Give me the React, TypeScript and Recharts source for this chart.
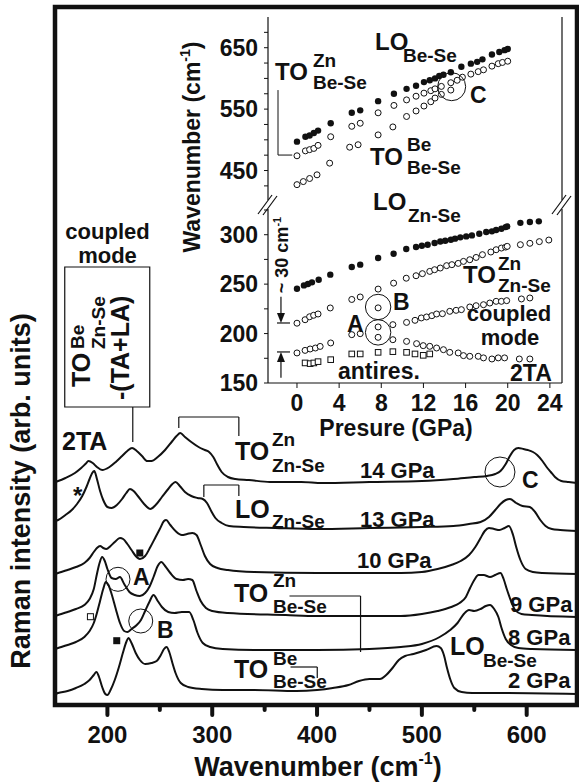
import React from 'react';
import {
  LineChart,
  Line,
  ScatterChart,
  Scatter,
  XAxis,
  YAxis,
  ReferenceArea,
  ReferenceLine,
  ReferenceDot,
} from 'recharts';

const FONT = '"Liberation Sans", Arial, Helvetica, sans-serif';
const INK = '#111';

// Raman spectra, [wavenumber (cm-1), intensity (arb. units, already stacked)]
const spec14: [number, number][] = [
  [150, 223], [153, 224], [160, 227], [169, 232], [175, 237], [179, 241], [182, 244], [186, 242],
  [190, 238], [195, 235], [202, 238], [208, 243], [214, 249], [219, 254], [223.5, 257], [228, 254],
  [233, 249], [238, 244], [242, 244], [248, 248], [255, 255], [262, 264], [266, 269], [269.5, 272],
  [274, 268], [280, 263], [287, 258], [293, 255], [297, 253], [301, 248], [305, 240], [309, 233],
  [315, 228], [322, 226], [335, 225], [355, 223], [385, 223], [405, 222], [450, 223], [500, 224],
  [530, 226], [550, 228], [562, 229], [570, 231], [575, 234], [580, 241], [584, 249], [588, 255],
  [592, 257], [597, 256], [601, 255], [606, 253], [610, 250], [615, 244], [619, 238], [623, 233],
  [627, 228], [633, 224], [640, 223], [648, 222],
];
const spec13: [number, number][] = [
  [150, 184], [153, 185], [160, 190], [166, 195], [171, 201], [176, 209], [180, 218], [183, 226],
  [185.5, 232], [187.5, 234], [190, 226], [193, 214], [196, 205], [200, 198], [204, 197], [209, 200],
  [214, 206], [218, 212], [221.5, 216], [225, 214], [229, 209], [235, 201], [241, 196], [246, 200],
  [252, 208], [258, 216], [262, 221], [265, 223], [269, 219], [274, 213], [280, 209], [286, 207],
  [291, 206], [295, 202], [299, 194], [303, 187], [309, 182], [316, 179], [330, 178], [360, 177],
  [400, 176], [450, 177], [500, 178], [530, 179], [545, 181], [556, 183], [564, 188], [570, 195],
  [575, 201], [580, 205], [584, 206], [590, 202], [596, 199], [603, 198], [608, 193], [613, 185],
  [618, 179], [624, 176], [632, 175], [648, 174],
];
const spec10: [number, number][] = [
  [150, 131], [153, 132], [162, 135], [170, 138], [178, 142], [183, 147], [187, 153], [190, 157],
  [193, 159], [196, 157], [199, 156], [203, 159], [207, 163], [212, 167], [215, 166], [219, 161],
  [223, 155], [227, 149], [231, 146], [236, 149], [241, 158], [246, 168], [250, 176], [254, 184],
  [256, 185], [260, 180], [265, 174], [271, 170], [276, 171], [281, 172], [285, 170], [289, 160],
  [293, 149], [298, 141], [305, 137], [315, 135], [340, 133], [400, 132], [480, 132], [500, 133],
  [515, 136], [528, 140], [537, 144], [545, 150], [551, 158], [556, 167], [560, 174], [564, 177],
  [569, 176], [574, 175], [579, 177], [583, 179], [587, 170], [590, 158], [594, 145], [599, 136],
  [606, 133], [615, 132], [648, 131],
];
const spec9: [number, number][] = [
  [150, 89], [153, 90], [162, 93], [170, 96], [178, 100], [183, 106], [187, 116], [190, 131],
  [192.5, 142], [195, 148], [197.5, 144], [200, 136], [204, 127], [208, 126], [212, 128], [216, 121],
  [221, 113], [226, 110], [231, 109], [236, 112], [240, 118], [244, 128], [248, 139], [251.5, 143],
  [255, 139], [260, 132], [266, 126], [272, 125], [277, 126], [281, 125], [285, 114], [289, 104],
  [294, 97], [300, 94], [315, 92], [370, 90], [400, 89], [480, 89], [500, 91], [515, 94],
  [528, 98], [536, 102], [542, 108], [546, 117], [550, 125], [554, 130], [559, 130], [565, 128],
  [570, 130], [575, 132], [578, 126], [581, 116], [585, 104], [589, 95], [595, 91], [605, 90],
  [648, 88],
];
const spec8: [number, number][] = [
  [150, 56], [153, 57], [162, 60], [170, 63], [178, 68], [183, 74], [187, 82], [190, 92],
  [193, 104], [196, 116], [198.5, 123], [201, 120], [204, 111], [208, 96], [212, 82], [216, 74],
  [219, 73], [223, 76], [228, 80], [232, 85], [236, 94], [240, 103], [244, 110], [248, 104],
  [252, 98], [258, 93], [264, 92], [271, 93], [278, 93], [282, 85], [286, 72], [291, 62],
  [298, 58], [310, 56], [340, 55], [400, 55], [450, 56], [480, 58], [500, 61], [517, 68],
  [527, 75], [534, 82], [540, 91], [545, 95], [550, 94], [556, 96], [561, 99], [565, 100],
  [569, 96], [573, 88], [576, 77], [580, 66], [585, 60], [592, 57], [605, 56], [648, 55],
];
const spec2: [number, number][] = [
  [150, 11], [153, 12], [162, 14], [170, 17], [178, 21], [183, 25], [187, 30], [189.5, 33],
  [192, 28], [195, 18], [198, 11], [200, 10], [203, 15], [207, 25], [211, 38], [215, 53],
  [218, 63], [220, 67], [223, 62], [227, 52], [231, 45], [236, 41], [242, 42], [247, 44],
  [251, 50], [254, 56], [256.5, 58], [259, 53], [262, 42], [265, 32], [270, 22], [277, 18],
  [290, 16], [310, 15], [340, 15], [380, 14], [400, 15], [415, 17], [430, 20], [440, 24],
  [450, 26], [460, 26], [466, 30], [472, 37], [478, 45], [484, 49], [492, 51], [504, 55],
  [514, 59], [518, 57], [521, 50], [524, 37], [527, 26], [531, 17], [538, 13], [548, 12],
  [580, 12], [648, 11],
];

const mainTicksX = [200, 250, 300, 350, 400, 450, 500, 550, 600];
const mainTicksY = [31, 105, 179, 253, 327, 401, 475, 549, 623];

// inset: pressure (GPa) vs mode frequency (cm-1)
const pressTicks = [0, 4, 8, 12, 16, 20, 24];
const upperTicks = [425, 450, 475, 500, 525, 550, 575, 600, 625, 650, 675];
const upperLabels = [450, 550, 650];
const lowerTicks = [150, 175, 200, 225, 250, 275, 300, 325];
const lowerLabels = [150, 200, 250, 300];

const loBeSe: [number, number][] = [
  [0, 497], [0.8, 505], [1.2, 507], [1.6, 511], [2.0, 515], [3.2, 527], [5.2, 544], [6.0, 548],
  [7.7, 563], [9.2, 575], [10.4, 583], [11.3, 588], [12.05, 594], [12.6, 597], [13.1, 600],
  [13.5, 604], [13.9, 606], [14.6, 610], [15.6, 619], [16.5, 624], [17.1, 627], [17.6, 631],
  [18.5, 639], [19.2, 643], [19.7, 646], [20.0, 648],
];
const toZnBeSe: [number, number][] = [
  [0, 474], [0.8, 482], [1.2, 484], [1.6, 486], [2.0, 491], [3.2, 505], [5.2, 522], [6.0, 527],
  [7.7, 544], [9.2, 556], [10.4, 565], [11.3, 571], [12.05, 576], [12.7, 580], [13.1, 583],
  [13.7, 587], [14.6, 593], [15.2, 597], [15.7, 602], [16.5, 607], [17.2, 611], [17.7, 614],
  [18.5, 620], [19.1, 624], [19.5, 626], [20.0, 628],
];
const toBeBeSe: [number, number][] = [
  [0, 427], [0.6, 432], [1.2, 437], [1.9, 443], [3.1, 462], [5.0, 488], [5.8, 492], [7.7, 508],
  [9.1, 521], [10.4, 538], [11.3, 547], [12.05, 555], [12.7, 562], [13.1, 568], [13.7, 574],
  [14.6, 581],
];
const loZnSe: [number, number][] = [
  [0, 245.4], [0.66, 248.7], [1.04, 250.1], [1.42, 251.8], [2.06, 254.5], [3.16, 259.6],
  [5.2, 267.3], [6.0, 269.7], [7.7, 276.4], [9.17, 280.8], [10.37, 285.5], [11.3, 287.5],
  [11.85, 288.9], [12.4, 289.9], [13.06, 291.6], [13.6, 293.2], [14.07, 293.9], [14.6, 294.9],
  [15.0, 296], [15.5, 297.3], [16.06, 298.3], [16.6, 299.3], [17.3, 301], [17.96, 302.7],
  [18.5, 303.4], [18.9, 304.7], [19.4, 306], [19.8, 307.7], [19.95, 308.4], [21.2, 312],
  [22.1, 312.8], [22.95, 313.5],
];
const toZnZnSe: [number, number][] = [
  [0, 210.5], [0.77, 214], [1.2, 217], [1.58, 218.5], [2.0, 219.8], [3.16, 225.9], [5.2, 234.5],
  [6.0, 237], [7.7, 245], [9.17, 251], [10.37, 256], [11.3, 258.5], [11.9, 260.6], [12.6, 262.9],
  [13.06, 264.6], [13.6, 266.3], [14.2, 268.7], [14.7, 269.7], [15.3, 271], [15.8, 273],
  [16.4, 274.7], [17.0, 277], [17.6, 279.8], [18.4, 282.5], [18.9, 284.8], [19.4, 286.5],
  [19.8, 287.5], [19.95, 288.2], [21.2, 289.9], [22.1, 291.3], [23.0, 293], [23.9, 294.6],
];
const coupledLow: [number, number][] = [
  [0, 180.4], [0.77, 183], [1.25, 184.4], [1.75, 185.4], [2.2, 187], [3.2, 190.5], [5.2, 198.9],
  [6.0, 199.9],
];
const modeAB: [number, number][] = [
  [7.7, 226], [7.7, 206.7], [7.7, 196.2], [9.1, 209], [9.1, 193.8],
];
const coupledHigh: [number, number][] = [
  [10.4, 211.3], [11.2, 213.4], [11.8, 215.8], [12.3, 216.8], [12.8, 218.1], [13.25, 219.8],
  [13.8, 220.1], [14.5, 222.5], [15.1, 223.5], [15.6, 224.2], [16.4, 226.9], [17.0, 228.2],
  [17.7, 229.2], [18.3, 230.9], [18.9, 232.6], [19.4, 232.6], [19.9, 233.3], [21.3, 235],
  [22.1, 236],
];
const twoTA: [number, number][] = [
  [10.4, 192.1], [11.35, 189.8], [11.98, 187.8], [12.6, 187.1], [13.25, 185.4], [13.9, 183.7],
  [14.5, 181], [15.3, 180.4], [15.8, 177.7], [16.4, 177], [17.2, 177], [17.7, 175.4],
  [18.5, 174.3], [19.1, 175.4], [19.7, 175.4], [21.1, 174.3], [22.1, 174.3],
];
const antires: [number, number][] = [
  [0.77, 170.3], [1.25, 169.6], [1.6, 170.3], [2.0, 171.6], [3.2, 173.6], [5.2, 179.4],
  [6.0, 179.4], [7.7, 181], [9.1, 181.7], [10.4, 181], [11.2, 179.4], [11.98, 178], [12.6, 179.4],
];

const P_MIN = -2.75;
const P_MAX = 25.15;

const spec = (a: [number, number][]) => a.map(([w, i]) => ({ w, i }));
const pv = (a: [number, number][]) => a.map(([p, v]) => ({ p, v }));

const T = ({ x, y, s = 23, a = 'start', children }: any) => (
  <text x={x} y={y} fontSize={s} textAnchor={a} fontWeight="bold" fontFamily={FONT} fill={INK}>
    {children}
  </text>
);

const Mode = ({ x, y, m, sx, sup, supY, sub, subY, s = 25, ss = 19 }: any) => (
  <g>
    <T x={x} y={y} s={s}>{m}</T>
    {sup && <T x={sx} y={supY} s={ss}>{sup}</T>}
    <T x={sx} y={subY} s={ss}>{sub}</T>
  </g>
);

const MainXTick = ({ x, y, payload }: any) => {
  const major = payload.value % 100 === 0;
  return (
    <g>
      <line x1={x} x2={x} y1={y} y2={y + (major ? 10 : 5)} stroke={INK} strokeWidth={4} strokeLinecap="round" />
      {major && (
        <text x={x} y={y + 38} textAnchor="middle" fontSize={24} fontWeight="bold" fontFamily={FONT} fill={INK}>
          {payload.value}
        </text>
      )}
    </g>
  );
};

const insetYTick = (labels: number[]) => ({ x, y, payload }: any) =>
  labels.includes(payload.value) ? (
    <text x={x} y={y + 8} textAnchor="end" fontSize={23} fontWeight="bold" fontFamily={FONT} fill={INK}>
      {payload.value}
    </text>
  ) : (
    <g />
  );

const PressTick = ({ x, y, payload }: any) => (
  <text x={x} y={y + 19} textAnchor="middle" fontSize={23} fontWeight="bold" fontFamily={FONT} fill={INK}>
    {payload.value}
  </text>
);

const filled = (p: any) => <circle cx={p.cx} cy={p.cy} r={3.2} fill={INK} />;
const open = (p: any) => <circle cx={p.cx} cy={p.cy} r={3} fill="#fff" stroke={INK} strokeWidth={1} />;
const square = (p: any) => (
  <rect x={p.cx - 2.8} y={p.cy - 2.8} width={5.6} height={5.6} fill="#fff" stroke={INK} strokeWidth={1} />
);

const thin = { stroke: INK, strokeWidth: 1.2 };

export default function App() {
  const spectra = [spec14, spec13, spec10, spec9, spec8, spec2];
  return (
    <div style={{ position: 'absolute', left: 0, top: 0, width: 579, height: 784, background: '#fff' }}>
      <div style={{ position: 'absolute', left: 0, top: 0 }}>
        <LineChart width={579} height={784} margin={{ top: 7, right: 2, left: 55, bottom: 9 }}>
          <XAxis
            type="number"
            dataKey="w"
            domain={[150, 648]}
            allowDataOverflow
            ticks={mainTicksX}
            interval={0}
            height={70}
            tickSize={0}
            tickMargin={0}
            tickLine={false}
            axisLine={false}
            tick={(p: any) => <MainXTick {...p} />}
          />
          <YAxis
            type="number"
            domain={[0, 698]}
            allowDataOverflow
            ticks={mainTicksY}
            interval={0}
            mirror
            width={0}
            tick={false}
            tickSize={4}
            tickLine={{ stroke: INK, strokeWidth: 1.5 }}
            axisLine={false}
          />
          <ReferenceArea x1={150} x2={648} y1={0} y2={698} fill="none" stroke={INK} strokeWidth={4.5} />
          {spectra.map((s, k) => (
            <Line
              key={k}
              data={spec(s)}
              dataKey="i"
              type="monotone"
              dot={false}
              stroke={INK}
              strokeWidth={2}
              isAnimationActive={false}
            />
          ))}
          {/* label box + brackets */}
          <ReferenceArea x1={159.3} x2={240.4} y1={298} y2={438} fill="none" stroke={INK} strokeWidth={1.2} />
          <ReferenceLine segment={[{ x: 224.2, y: 298 }, { x: 224.2, y: 263 }]} {...thin} />
          <ReferenceLine segment={[{ x: 268.1, y: 277 }, { x: 268.1, y: 288 }]} {...thin} />
          <ReferenceLine segment={[{ x: 268.1, y: 288 }, { x: 325.4, y: 288 }]} {...thin} />
          <ReferenceLine segment={[{ x: 325.4, y: 288 }, { x: 325.4, y: 269 }]} {...thin} />
          <ReferenceLine segment={[{ x: 292, y: 208 }, { x: 292, y: 220 }]} {...thin} />
          <ReferenceLine segment={[{ x: 292, y: 220 }, { x: 325.4, y: 220 }]} {...thin} />
          <ReferenceLine segment={[{ x: 325.4, y: 220 }, { x: 325.4, y: 209 }]} {...thin} />
          <ReferenceLine segment={[{ x: 373.7, y: 109 }, { x: 441.5, y: 109 }]} {...thin} />
          <ReferenceLine segment={[{ x: 441.5, y: 109 }, { x: 441.5, y: 53 }]} {...thin} />
          <ReferenceLine segment={[{ x: 374.7, y: 38 }, { x: 400.2, y: 38 }]} {...thin} />
          <ReferenceLine segment={[{ x: 400.2, y: 38 }, { x: 400.2, y: 27 }]} {...thin} />
          <ReferenceDot x={210.1} y={125.7} r={12} fill="none" stroke={INK} strokeWidth={1} />
          <ReferenceDot x={231.8} y={84} r={12} fill="none" stroke={INK} strokeWidth={1} />
          <ReferenceDot x={574.5} y={233} r={15} fill="none" stroke={INK} strokeWidth={1} />
          <ReferenceDot
            x={230.9}
            y={152}
            shape={(p: any) => <rect x={p.cx - 3.5} y={p.cy - 3.5} width={7} height={7} fill={INK} />}
          />
          <ReferenceDot
            x={208.9}
            y={64.3}
            shape={(p: any) => <rect x={p.cx - 3.5} y={p.cy - 3.5} width={7} height={7} fill={INK} />}
          />
          <ReferenceDot
            x={183.8}
            y={88.3}
            shape={(p: any) => (
              <rect x={p.cx - 3} y={p.cy - 3} width={6} height={6} fill="#fff" stroke={INK} strokeWidth={1} />
            )}
          />
        </LineChart>
      </div>

      {/* inset, upper part of the broken axis */}
      <div style={{ position: 'absolute', left: 150, top: 0 }}>
        <ScatterChart width={429} height={210} margin={{ top: 17, right: 17, bottom: 10, left: 0 }}>
          <XAxis
            type="number"
            dataKey="p"
            orientation="top"
            domain={[P_MIN, P_MAX]}
            allowDataOverflow
            ticks={pressTicks}
            interval={0}
            height={0}
            tick={false}
            tickSize={5}
            tickLine={{ stroke: INK }}
            axisLine={thin}
          />
          <YAxis
            type="number"
            dataKey="v"
            domain={[402, 700]}
            allowDataOverflow
            ticks={upperTicks}
            interval={0}
            width={118}
            tickSize={4}
            tickMargin={6}
            tick={insetYTick(upperLabels)}
            tickLine={{ stroke: INK }}
            axisLine={thin}
          />
          <ReferenceLine x={P_MAX} {...thin} />
          <ReferenceLine segment={[{ x: -1.8, y: 581 }, { x: -1.8, y: 475.2 }]} stroke={INK} strokeWidth={1} />
          <ReferenceLine segment={[{ x: -1.8, y: 475.2 }, { x: -0.45, y: 475.2 }]} stroke={INK} strokeWidth={1} />
          <Scatter data={pv(toBeBeSe)} shape={open} isAnimationActive={false} />
          <Scatter data={pv(toZnBeSe)} shape={open} isAnimationActive={false} />
          <Scatter data={pv(loBeSe)} shape={filled} isAnimationActive={false} />
          <ReferenceDot x={14.68} y={586.5} r={14} fill="none" stroke={INK} strokeWidth={1} />
        </ScatterChart>
      </div>

      {/* inset, lower part */}
      <div style={{ position: 'absolute', left: 150, top: 192 }}>
        <ScatterChart width={429} height={248} margin={{ top: 17, right: 17, bottom: 0, left: 0 }}>
          <XAxis
            type="number"
            dataKey="p"
            domain={[P_MIN, P_MAX]}
            allowDataOverflow
            ticks={pressTicks}
            interval={0}
            height={57}
            tickSize={5}
            tickMargin={4}
            tick={(p: any) => <PressTick {...p} />}
            tickLine={{ stroke: INK }}
            axisLine={thin}
          />
          <YAxis
            type="number"
            dataKey="v"
            domain={[150, 326]}
            allowDataOverflow
            ticks={lowerTicks}
            interval={0}
            width={118}
            tickSize={4}
            tickMargin={6}
            tick={insetYTick(lowerLabels)}
            tickLine={{ stroke: INK }}
            axisLine={thin}
          />
          <ReferenceLine x={P_MAX} {...thin} />
          <ReferenceLine segment={[{ x: -1.9, y: 210.7 }, { x: -0.66, y: 210.7 }]} stroke={INK} strokeWidth={1.2} />
          <ReferenceLine segment={[{ x: -1.9, y: 181.4 }, { x: -0.66, y: 181.4 }]} stroke={INK} strokeWidth={1.2} />
          <ReferenceLine segment={[{ x: -1.52, y: 237.3 }, { x: -1.52, y: 218 }]} stroke={INK} strokeWidth={1.2} />
          <ReferenceLine segment={[{ x: -1.52, y: 155.4 }, { x: -1.52, y: 175 }]} stroke={INK} strokeWidth={1.2} />
          <ReferenceDot
            x={-1.52}
            y={210.7}
            shape={(p: any) => (
              <polygon points={`${p.cx - 4},${p.cy - 10} ${p.cx + 4},${p.cy - 10} ${p.cx},${p.cy}`} fill={INK} />
            )}
          />
          <ReferenceDot
            x={-1.52}
            y={181.4}
            shape={(p: any) => (
              <polygon points={`${p.cx - 4},${p.cy + 10} ${p.cx + 4},${p.cy + 10} ${p.cx},${p.cy}`} fill={INK} />
            )}
          />
          <Scatter data={pv(antires)} shape={square} isAnimationActive={false} />
          <Scatter data={pv(coupledLow)} shape={open} isAnimationActive={false} />
          <Scatter data={pv(modeAB)} shape={open} isAnimationActive={false} />
          <Scatter data={pv(coupledHigh)} shape={open} isAnimationActive={false} />
          <Scatter data={pv(twoTA)} shape={open} isAnimationActive={false} />
          <Scatter data={pv(toZnZnSe)} shape={open} isAnimationActive={false} />
          <Scatter data={pv(loZnSe)} shape={filled} isAnimationActive={false} />
          <ReferenceDot x={7.7} y={226.9} r={12.7} fill="none" stroke={INK} strokeWidth={1} />
          <ReferenceDot x={7.7} y={201.2} r={12.7} fill="none" stroke={INK} strokeWidth={1} />
        </ScatterChart>
      </div>

      {/* text annotations */}
      <svg width={579} height={784} style={{ position: 'absolute', left: 0, top: 0, pointerEvents: 'none' }}>
        {/* axis break marks */}
        {[268, 562].map((cx) => (
          <g key={cx} stroke={INK} strokeWidth={1.2}>
            <line x1={cx - 10} y1={214} x2={cx + 4} y2={195} />
            <line x1={cx - 5} y1={215} x2={cx + 9} y2={196} />
          </g>
        ))}

        {/* main axis titles */}
        <text x={318} y={776} textAnchor="middle" fontSize={27} fontWeight="bold" fontFamily={FONT} fill={INK}>
          Wavenumber (cm<tspan fontSize={16} dy={-12}>-1</tspan><tspan dy={12}>)</tspan>
        </text>
        <text
          transform="translate(30,491) rotate(-90)"
          textAnchor="middle"
          fontSize={27}
          fontWeight="bold"
          fontFamily={FONT}
          fill={INK}
        >
          Raman intensity (arb. units)
        </text>

        {/* main annotations */}
        <T x={107.5} y={239} s={22} a="middle">coupled</T>
        <T x={107.5} y={263} s={22} a="middle">mode</T>
        <g transform="translate(90,387) rotate(-90)">
          <T x={0} y={0} s={25}>TO</T>
          <T x={38} y={-6} s={19}>Be</T>
          <T x={38} y={15} s={19}>Zn-Se</T>
        </g>
        <g transform="translate(129,400) rotate(-90)">
          <T x={0} y={0} s={25}>-(TA+LA)</T>
        </g>
        <T x={62} y={450} s={25}>2TA</T>
        <Mode x={235} y={460} m="TO" sx={272} sup="Zn" supY={446} sub="Zn-Se" subY={472} />
        <T x={360} y={478} s={22}>14 GPa</T>
        <T x={522} y={488}>C</T>
        <T x={73} y={504} s={24}>*</T>
        <Mode x={235} y={518} m="LO" sx={272} sub="Zn-Se" subY={528} />
        <T x={360} y={527} s={22}>13 GPa</T>
        <T x={357} y={568} s={22}>10 GPa</T>
        <Mode x={234} y={602} m="TO" sx={273} sup="Zn" supY={587} sub="Be-Se" subY={613} />
        <T x={133} y={585}>A</T>
        <T x={157} y={638}>B</T>
        <T x={510} y={612} s={22}>9 GPa</T>
        <T x={508} y={645} s={22}>8 GPa</T>
        <Mode x={450} y={655} m="LO" sx={483} sub="Be-Se" subY={667} />
        <T x={508} y={688} s={22}>2 GPa</T>
        <Mode x={234} y={678} m="TO" sx={273} sup="Be" supY={665} sub="Be-Se" subY={688} />

        {/* inset annotations */}
        <text
          transform="translate(200,147) rotate(-90)"
          textAnchor="middle"
          fontSize={23}
          fontWeight="bold"
          fontFamily={FONT}
          fill={INK}
        >
          Wavenumber (cm<tspan fontSize={14} dy={-10}>-1</tspan><tspan dy={10}>)</tspan>
        </text>
        <T x={396} y={436} a="middle">Presure (GPa)</T>
        <Mode x={375} y={50} m="LO" s={24} sx={403} sub="Be-Se" subY={62} />
        <Mode x={275} y={80} m="TO" s={24} sx={313} sup="Zn" supY={67} sub="Be-Se" subY={89} />
        <Mode x={370} y={165} m="TO" s={24} sx={407} sup="Be" supY={151} sub="Be-Se" subY={174} />
        <Mode x={373} y={210} m="LO" s={24} sx={408} sub="Zn-Se" subY={222} />
        <Mode x={463} y={283} m="TO" s={24} sx={498} sup="Zn" supY={270} sub="Zn-Se" subY={292} />
        <T x={470} y={103}>C</T>
        <T x={393} y={310}>B</T>
        <T x={347} y={332}>A</T>
        <T x={509} y={321} s={22} a="middle">coupled</T>
        <T x={510} y={345} s={22} a="middle">mode</T>
        <T x={338} y={379}>antires.</T>
        <T x={510} y={381}>2TA</T>
        <text
          transform="translate(288,255) rotate(-90)"
          textAnchor="middle"
          fontSize={18}
          fontWeight="bold"
          fontFamily={FONT}
          fill={INK}
        >
          ~ 30 cm<tspan fontSize={11} dy={-7}>-1</tspan>
        </text>
      </svg>
    </div>
  );
}
